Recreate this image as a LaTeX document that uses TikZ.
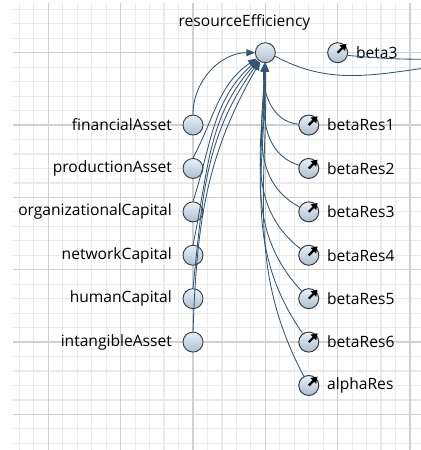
\documentclass[tikz,border=0pt]{standalone}
\usepackage{fontspec}
\setmainfont{Open Sans}
\usepackage{xcolor}
\usepackage{tikz}
\usetikzlibrary{arrows.meta}
\definecolor{pathblue}{RGB}{50,86,116}
\definecolor{gridminor}{RGB}{234,234,234}
\definecolor{gridmajor}{RGB}{208,208,208}
\definecolor{nodetop}{RGB}{232,240,246}
\definecolor{nodebot}{RGB}{172,192,208}
\definecolor{rimgray}{RGB}{58,58,58}
\colorlet{lbltext}{black}
\tikzstyle{var}=[circle,minimum size=20pt,inner sep=0pt,draw=rimgray,line width=.9pt,top color=nodetop,bottom color=nodebot]
\tikzstyle{par}=[var,line width=1pt]
\tikzstyle{lbl}=[font=\fontsize{15.6}{18}\selectfont,text=lbltext,inner sep=0pt]
\tikzstyle{reghead}=[>/.tip={Triangle[length=8.5pt,width=7pt]}]
\tikzstyle{reg}=[line width=.85pt,draw=pathblue,fill=none,reghead,->]
\tikzstyle{link}=[line width=.85pt,draw=pathblue]
\tikzstyle{dialarrow}=[line width=2.2pt,black,-{Triangle[length=6pt,width=7.5pt]}]
\newcommand\dial[1]{\draw[dialarrow] (#1.center) -- ++(45:12.5pt);}

\begin{document}
\begin{tikzpicture}[x=14.47pt,y=14.47pt]
  \useasboundingbox[fill=white] (-0.34,0.643) rectangle (28.75,-30.46);
  % grid paper
  \begin{scope}
    \clip (0.56,0.37) rectangle (28.75,-30.46);
    \foreach \i in {-1,...,29}
      \draw[gridminor,line width=1.2pt] (\i,1) -- (\i,-31);
    \foreach \j in {-31,...,1}
      \draw[gridminor,line width=1.2pt] (-1,\j) -- (29,\j);
    \foreach \i in {3,8,...,28}
      \draw[gridmajor,line width=1.2pt] (\i,1) -- (\i,-31);
    \foreach \j in {-3,-8,...,-28}
      \draw[gridmajor,line width=1.2pt] (-1,\j) -- (29,\j);
  \end{scope}

  % outcome
  \node[var] (res) at (18,-3) {};
  \node[lbl] (resl) at (16.56,-0.9) {resourceEfficiency};

  % predictors
  \node[var] (fin)  at (13,-8)  {};
  \node[var] (prod) at (13,-11) {};
  \node[var] (org)  at (13,-14) {};
  \node[var] (net)  at (13,-17) {};
  \node[var] (hum)  at (13,-20) {};
  \node[var] (intg) at (13,-23) {};
  \node[lbl,anchor=east] (finl)  at (11.55,-8)  {financialAsset};
  \node[lbl,anchor=east] (prodl) at (11.55,-11) {productionAsset};
  \node[lbl,anchor=east] (orgl)  at (11.55,-14) {organizationalCapital};
  \node[lbl,anchor=east] (netl)  at (11.55,-17) {networkCapital};
  \node[lbl,anchor=east] (huml)  at (11.55,-20) {humanCapital};
  \node[lbl,anchor=east] (intgl) at (11.55,-23) {intangibleAsset};

  % parameters
  \node[par] (b3) at (23,-3)  {};
  \node[par] (br1) at (21,-8)  {};
  \node[par] (br2) at (21,-11) {};
  \node[par] (br3) at (21,-14) {};
  \node[par] (br4) at (21,-17) {};
  \node[par] (br5) at (21,-20) {};
  \node[par] (br6) at (21,-23) {};
  \node[par] (ares) at (21,-26) {};
  \node[lbl,anchor=west] (b3l)  at (24.26,-3)  {beta3};
  \node[lbl,anchor=west] (br1l) at (22.26,-8)  {betaRes1};
  \node[lbl,anchor=west] (br2l) at (22.26,-11) {betaRes2};
  \node[lbl,anchor=west] (br3l) at (22.26,-14) {betaRes3};
  \node[lbl,anchor=west] (br4l) at (22.26,-17) {betaRes4};
  \node[lbl,anchor=west] (br5l) at (22.26,-20) {betaRes5};
  \node[lbl,anchor=west] (br6l) at (22.26,-23) {betaRes6};
  \node[lbl,anchor=west] (aresl) at (22.26,-26) {alphaRes};

  \coordinate (outA) at (28.75,-3.45);
  \coordinate (outB) at (28.75,-4.1);

  % regression paths
  \draw[reg] (fin.north)  to[out=90,in=180] (res);
  \draw[reg] (prod.north) to[out=62,in=214] (res);
  \draw[reg] (org.north)  to[out=72,in=222] (res);
  \draw[reg] (net.north)  to[out=78,in=228] (res);
  \draw[reg] (hum.north)  to[out=84,in=234] (res);
  \draw[reg] (intg.north) to[out=88,in=240] (res);

  \draw[reg] (br1) to[out=175,in=-95] (res);
  \draw[reg] (br2) to[out=162,in=-93] (res);
  \draw[reg] (br3) to[out=152,in=-92] (res);
  \draw[reg] (br4) to[out=142,in=-91] (res);
  \draw[reg] (br5) to[out=133,in=-90] (res);
  \draw[reg] (br6) to[out=125,in=-90] (res);
  \draw[reg] (ares) to[out=118,in=-89] (res);

  \draw[link] (b3.-15) to[out=-5,in=180] (outA);
  \draw[link] (res.-20) to[out=-28,in=188] (outB);

  % parameter markers
  \dial{b3}
  \dial{br1} \dial{br2} \dial{br3} \dial{br4}
  \dial{br5} \dial{br6} \dial{ares}
\end{tikzpicture}
\end{document}
